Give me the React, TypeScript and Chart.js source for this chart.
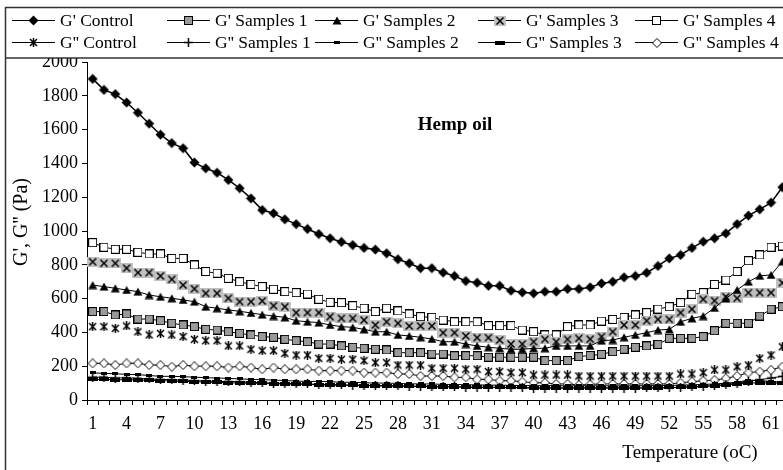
import React, { useEffect, useRef } from 'react';
import { Chart, registerables } from 'chart.js';
Chart.register(...registerables);

const categories = ['1','2','3','4','5','6','7','8','9','10','11','12','13','14','15','16','17','18','19','20','21','22','23','24','25','26','27','28','29','30','31','32','33','34','35','36','37','38','39','40','41','42','43','44','45','46','47','48','49','50','51','52','53','54','55','56','57','58','59','60','61','62'];

const gpControl = [1900,1835,1810,1760,1700,1635,1570,1520,1490,1405,1371,1345,1302,1253,1193,1124,1105,1069,1041,1012,982,957,935,917,900,890,868,833,809,780,780,754,734,704,694,676,676,647,637,631,641,641,657,657,667,690,700,726,734,753,793,838,858,900,937,957,986,1041,1091,1128,1168,1259];
const gpS1 = [523,523,503,509,479,479,469,454,444,434,418,414,404,394,385,375,371,359,351,345,331,331,320,312,306,300,296,280,280,280,272,272,262,262,262,253,253,253,253,253,233,233,233,257,263,270,286,300,312,320,329,365,365,365,375,410,454,454,454,497,537,552];
const gpS2 = [680,671,661,651,641,621,611,602,592,582,552,543,533,525,515,505,497,489,469,463,458,444,434,430,418,404,404,385,379,371,361,345,345,331,320,312,306,300,300,306,306,320,320,320,320,351,355,371,385,398,414,418,463,483,497,545,600,651,700,735,740,820];
const gpS3 = [818,809,809,780,754,754,734,714,680,658,631,631,602,582,582,586,558,552,517,517,517,493,483,483,473,444,463,454,438,438,438,398,398,379,369,369,355,331,331,345,359,345,359,365,360,375,404,444,444,469,477,477,517,537,596,588,611,602,635,635,635,694];
const gpS4 = [931,904,892,892,874,864,864,838,838,799,760,750,720,700,684,671,655,641,635,627,596,578,576,558,543,523,543,527,509,493,489,473,463,463,463,440,440,440,414,404,385,385,434,444,444,467,477,489,503,517,538,552,576,625,635,684,710,760,824,858,904,911];
const gppControl = [434,434,424,438,404,385,394,385,375,359,351,351,320,320,300,292,292,276,266,266,247,247,241,241,233,221,221,207,207,207,188,188,188,182,182,168,168,162,162,148,148,148,148,142,142,142,142,142,142,142,142,142,154,154,162,178,178,197,207,247,266,315];
const gppS1 = [135,135,130,132,128,125,122,120,118,115,112,110,110,108,105,102,100,98,95,95,92,92,90,88,88,85,85,85,82,82,80,80,78,76,75,75,74,72,72,70,70,70,70,70,70,70,70,70,70,72,72,72,75,78,80,85,90,100,110,120,130,140];
const gppS2 = [160,158,155,152,150,145,140,140,138,135,132,130,128,125,122,120,118,115,112,110,110,108,105,105,102,100,100,98,96,95,95,92,92,90,90,88,88,86,86,85,85,85,84,84,84,84,84,84,84,85,85,86,88,90,92,95,100,105,118,115,110,105];
const gppS3 = [122,122,120,120,118,116,115,112,110,108,106,104,102,100,100,98,96,95,94,92,90,88,88,86,85,84,82,82,80,80,78,78,78,76,76,75,75,74,74,72,72,72,72,72,72,72,72,72,72,72,72,74,75,78,80,85,90,95,100,102,100,100];
const gppS4 = [217,217,207,217,217,207,207,197,207,200,200,200,192,200,192,182,192,182,182,182,174,174,174,174,162,162,162,154,154,142,142,142,134,134,122,122,114,114,108,102,102,95,95,89,92,95,95,95,95,95,95,95,102,108,114,118,128,142,162,168,178,197];

const seriesLabels = ["G' Control", "G' Samples 1", "G' Samples 2", "G' Samples 3", "G' Samples 4", "G'' Control", "G'' Samples 1", "G'' Samples 2", "G'' Samples 3", "G'' Samples 4"];
const seriesValues = [gpControl, gpS1, gpS2, gpS3, gpS4, gppControl, gppS1, gppS2, gppS3, gppS4];
const seriesShowLine = [true, true, true, true, true, false, true, true, true, true];

const FONT = '"Liberation Serif", "Times New Roman", serif';

function mk(w: number, h: number, draw: (ctx: CanvasRenderingContext2D) => void) {
  const c = document.createElement('canvas');
  c.width = w; c.height = h;
  const ctx = c.getContext('2d')!;
  draw(ctx);
  return c;
}

function makeMarkers() {
  const diamondFilled = mk(11, 11, (c) => {
    c.beginPath(); c.moveTo(5.5, 0.5); c.lineTo(10.5, 5.5); c.lineTo(5.5, 10.5); c.lineTo(0.5, 5.5); c.closePath();
    c.fillStyle = '#000'; c.fill();
  });
  const graySquare = mk(9, 9, (c) => {
    c.fillStyle = '#9a9a9a'; c.fillRect(1, 1, 7, 7);
    c.strokeStyle = '#000'; c.lineWidth = 1; c.strokeRect(0.5, 0.5, 8, 8);
  });
  const triangle = mk(10, 9, (c) => {
    c.beginPath(); c.moveTo(5, 0.5); c.lineTo(9.5, 8.5); c.lineTo(0.5, 8.5); c.closePath();
    c.fillStyle = '#000'; c.fill();
  });
  const xBox = mk(12, 10, (c) => {
    c.fillStyle = '#c0c0c0'; c.fillRect(0, 0, 12, 10);
    c.strokeStyle = '#000'; c.lineWidth = 1.5;
    c.beginPath(); c.moveTo(2.5, 1.5); c.lineTo(9.5, 8.5); c.moveTo(9.5, 1.5); c.lineTo(2.5, 8.5); c.stroke();
  });
  const whiteSquare = mk(9, 9, (c) => {
    c.fillStyle = '#fff'; c.fillRect(1, 1, 7, 7);
    c.strokeStyle = '#000'; c.lineWidth = 1; c.strokeRect(0.5, 0.5, 8, 8);
  });
  const asterisk = mk(9, 9, (c) => {
    c.strokeStyle = '#000'; c.lineWidth = 1.5;
    c.beginPath(); c.moveTo(1, 1); c.lineTo(8, 8); c.moveTo(8, 1); c.lineTo(1, 8); c.moveTo(4.5, 0); c.lineTo(4.5, 9); c.stroke();
  });
  const plus = mk(9, 9, (c) => {
    c.strokeStyle = '#000'; c.lineWidth = 1.5;
    c.beginPath(); c.moveTo(0, 4.5); c.lineTo(9, 4.5); c.moveTo(4.5, 0); c.lineTo(4.5, 9); c.stroke();
  });
  const smallDash = mk(6, 3, (c) => { c.fillStyle = '#000'; c.fillRect(0, 0, 6, 3); });
  const thickDash = mk(10, 4, (c) => { c.fillStyle = '#000'; c.fillRect(0, 0, 10, 4); });
  const whiteDiamond = mk(10, 10, (c) => {
    c.beginPath(); c.moveTo(5, 0.5); c.lineTo(9.5, 5); c.lineTo(5, 9.5); c.lineTo(0.5, 5); c.closePath();
    c.fillStyle = '#fff'; c.fill(); c.strokeStyle = '#000'; c.lineWidth = 1; c.stroke();
  });
  return [diamondFilled, graySquare, triangle, xBox, whiteSquare, asterisk, plus, smallDash, thickDash, whiteDiamond];
}

const legendCols = [12, 167, 315, 478, 635];
const legendRows = [20, 42];

const decorPlugin = {
  id: 'decor',
  afterDraw(chart: any) {
    const ctx: CanvasRenderingContext2D = chart.ctx;
    const W = chart.width;
    ctx.save();
    ctx.fillStyle = '#fff';
    ctx.fillRect(6, 0, W, 58);
    ctx.strokeStyle = '#333';
    ctx.lineWidth = 1.5;
    ctx.beginPath();
    ctx.moveTo(5.5, 7); ctx.lineTo(5.5, chart.height);
    ctx.moveTo(5, 7.5); ctx.lineTo(W, 7.5);
    ctx.moveTo(5, 58); ctx.lineTo(W, 58);
    ctx.stroke();

    chart.data.datasets.forEach((ds: any, i: number) => {
      const row = i < 5 ? 0 : 1;
      const col = i % 5;
      const x0 = legendCols[col];
      const y = legendRows[row];
      ctx.strokeStyle = '#000';
      ctx.lineWidth = 1;
      ctx.beginPath(); ctx.moveTo(x0, y + 0.5); ctx.lineTo(x0 + 43, y + 0.5); ctx.stroke();
      const m = ds.pointStyle as HTMLCanvasElement;
      ctx.drawImage(m, Math.round(x0 + 21.5 - m.width / 2), Math.round(y + 0.5 - m.height / 2));
      ctx.fillStyle = '#000';
      ctx.font = '17.5px ' + FONT;
      ctx.textBaseline = 'middle';
      ctx.textAlign = 'left';
      ctx.fillText(ds.label, x0 + 48, y + 1);
    });

    ctx.fillStyle = '#000';
    ctx.font = 'bold 19px ' + FONT;
    ctx.textAlign = 'center';
    ctx.textBaseline = 'middle';
    ctx.fillText('Hemp oil', 455, 125);

    ctx.font = '19px ' + FONT;
    ctx.fillText('Temperature (oC)', 690, 453);

    ctx.translate(22, 222);
    ctx.rotate(-Math.PI / 2);
    ctx.font = '20px ' + FONT;
    ctx.fillText("G', G'' (Pa)", 0, 0);
    ctx.restore();
  },
};

export default function App() {
  const ref = useRef<HTMLCanvasElement | null>(null);
  useEffect(() => {
    if (!ref.current) return;
    const markers = makeMarkers();
    const datasets = seriesLabels.map((label, i) => ({
      label,
      data: seriesValues[i],
      borderColor: '#000',
      backgroundColor: '#000',
      borderWidth: i === 0 ? 1.5 : 1,
      pointStyle: markers[i],
      pointRadius: 4,
      pointHoverRadius: 4,
      showLine: seriesShowLine[i],
      tension: 0,
      fill: false,
    }));
    const tickFont = { family: FONT, size: 18 };
    const chart = new Chart(ref.current, {
      type: 'line',
      data: { labels: categories, datasets },
      options: {
        responsive: false,
        animation: false,
        devicePixelRatio: 1,
        layout: { padding: { top: 62, right: 12, left: 0, bottom: 0 } },
        plugins: { legend: { display: false }, tooltip: { enabled: false }, title: { display: false } },
        scales: {
          x: {
            type: 'category',
            offset: true,
            grid: { display: true, offset: true, drawOnChartArea: false, drawTicks: true, tickLength: 5, color: '#000' },
            border: { display: true, color: '#000', width: 1 },
            ticks: {
              autoSkip: false, maxRotation: 0, minRotation: 0, font: tickFont, color: '#000', padding: 8,
              callback: (_v: any, idx: number) => (idx % 3 === 0 ? categories[idx] : ''),
            },
            afterFit: (s: any) => { s.height = 70; },
          },
          y: {
            min: 0, max: 2000,
            ticks: { stepSize: 200, font: tickFont, color: '#000', padding: 4, callback: (v: any) => String(v) },
            grid: { display: true, drawOnChartArea: false, drawTicks: true, tickLength: 5, color: '#000' },
            border: { display: true, color: '#000', width: 1 },
            afterFit: (s: any) => { s.width = 87; },
          },
        },
      },
      plugins: [decorPlugin],
    } as any);
    return () => chart.destroy();
  }, []);
  return (
    <div style={{ position: 'fixed', left: 0, top: 0, width: 783, height: 470, overflow: 'hidden', background: '#fff' }}>
      <canvas ref={ref} width={800} height={470} style={{ display: 'block', width: 800, height: 470 }} />
    </div>
  );
}
